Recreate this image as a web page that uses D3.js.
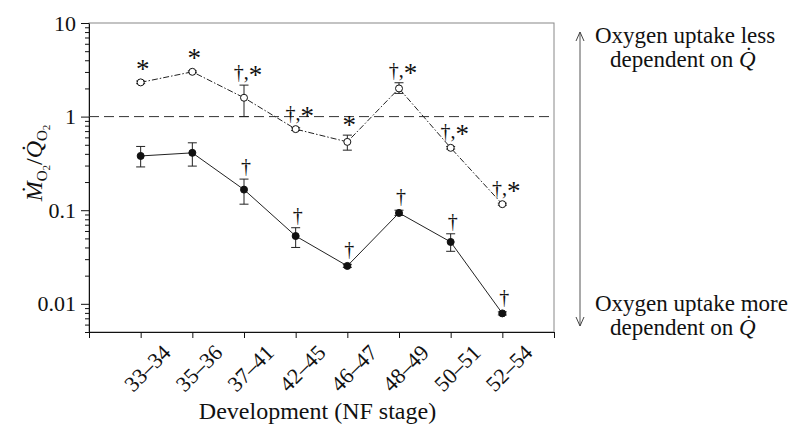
<!DOCTYPE html>
<html>
<head>
<meta charset="utf-8">
<script src="https://cdn.jsdelivr.net/npm/d3@7"></script>
<style>
  body { margin: 0; background: #fff; }
  svg { font-family: "Liberation Serif", "Times New Roman", serif; }
  .axis path, .axis line { stroke: #111; }
  .axis text { font-size: 22px; fill: #111; font-family: "Liberation Serif", serif; }
</style>
</head>
<body>
<div id="chart"></div>
<script>
// data
const stages = ["33–34", "35–36", "37–41", "42–45", "46–47", "48–49", "50–51", "52–54"];

const closedMean = [0.38, 0.41, 0.166, 0.053, 0.0254, 0.0935, 0.0458, 0.0079];
const closedLow  = [0.29, 0.296, 0.116, 0.040, 0.0245, 0.088, 0.0364, 0.0076];
const closedHigh = [0.48, 0.525, 0.215, 0.065, 0.0264, 0.100, 0.056, 0.0082];

const openMean = [2.32, 3.01, 1.59, 0.735, 0.537, 2.0, 0.464, 0.116];
const openLow  = [2.25, 2.95, 1.0, 0.71, 0.438, 1.77, 0.45, 0.113];
const openHigh = [2.40, 3.08, 2.17, 0.76, 0.634, 2.30, 0.48, 0.119];

const closedMarks = ["", "", "†", "†", "†", "†", "†", "†"];
const openMarks   = ["*", "*", "†,*", "†,*", "*", "†,*", "†,*", "†,*"];

const yMajor = [10, 1, 0.1, 0.01];
const yMajorLabels = ["10", "1", "0.1", "0.01"];
const yMinor = [0.005, 0.006, 0.007, 0.008, 0.009,
                0.02, 0.03, 0.04, 0.05, 0.06, 0.07, 0.08, 0.09,
                0.2, 0.3, 0.4, 0.5, 0.6, 0.7, 0.8, 0.9,
                2, 3, 4, 5, 6, 7, 8, 9];
const refLevel = 1;

// layout
const w = 798, h = 425;
const pLeft = 89, pRight = 554, pTop = 23, pBottom = 332;
const r = 3.5;

const svg = d3.select("#chart").append("svg")
    .attr("width", w)
    .attr("height", h);

const xScale = d3.scaleLinear().domain([0, stages.length + 1]).range([pLeft, pRight]);
const yScale = d3.scaleLog().domain([0.005, 10]).range([pBottom, pTop]);

// frame (top and right are light)
svg.append("rect")
    .attr("x", pLeft).attr("y", pTop)
    .attr("width", pRight - pLeft).attr("height", pBottom - pTop)
    .attr("fill", "none").attr("stroke", "#888").attr("stroke-width", 1);

// y axis, major + minor
svg.append("g")
    .attr("class", "axis")
    .attr("transform", "translate(" + pLeft + ",0)")
    .call(d3.axisLeft(yScale).tickValues(yMinor).tickSize(4).tickFormat(""))
    .call(g => g.select(".domain").remove());

svg.append("g")
    .attr("class", "axis")
    .attr("transform", "translate(" + pLeft + ",0)")
    .call(d3.axisLeft(yScale).tickValues(yMajor).tickSize(8).tickSizeOuter(0).tickPadding(5)
        .tickFormat((d, i) => yMajorLabels[i]));

// x axis
const xTicks = d3.range(0, stages.length + 2);
const xAxis = svg.append("g")
    .attr("class", "axis")
    .attr("transform", "translate(0," + pBottom + ")")
    .call(d3.axisBottom(xScale).tickValues(xTicks).tickSize(6).tickSizeOuter(0)
        .tickFormat(d => (d >= 1 && d <= stages.length) ? stages[d - 1] : ""));

xAxis.selectAll(".tick text")
    .attr("y", 0)
    .attr("dy", "0.35em")
    .attr("text-anchor", "middle")
    .attr("transform", "translate(6,36) rotate(-45)");

// reference line at 1
svg.append("line")
    .attr("x1", pLeft).attr("x2", pRight)
    .attr("y1", yScale(refLevel)).attr("y2", yScale(refLevel))
    .attr("stroke", "#333").attr("stroke-width", 1)
    .attr("stroke-dasharray", "10,5");

function series(mean, low, high, marks, filled, dash) {
    const data = mean.map((v, i) => ({i: i + 1, v: v, lo: low[i], hi: high[i], mark: marks[i]}));
    const g = svg.append("g");

    const line = d3.line()
        .x(d => xScale(d.i))
        .y(d => yScale(d.v));

    g.append("path")
        .datum(data)
        .attr("fill", "none")
        .attr("stroke", "#222")
        .attr("stroke-width", 1)
        .attr("stroke-dasharray", dash)
        .attr("d", line);

    // error bars
    const eb = g.selectAll(".eb").data(data).join("g").attr("class", "eb")
        .attr("stroke", "#222").attr("stroke-width", 1);
    eb.append("line")
        .attr("x1", d => xScale(d.i)).attr("x2", d => xScale(d.i))
        .attr("y1", d => yScale(d.lo)).attr("y2", d => yScale(d.hi));
    [d => d.lo, d => d.hi].forEach(f => {
        eb.append("line")
            .attr("x1", d => xScale(d.i) - 4.5).attr("x2", d => xScale(d.i) + 4.5)
            .attr("y1", d => yScale(f(d))).attr("y2", d => yScale(f(d)));
    });

    g.selectAll("circle").data(data).join("circle")
        .attr("cx", d => xScale(d.i))
        .attr("cy", d => yScale(d.v))
        .attr("r", r)
        .attr("fill", filled ? "#111" : "#fff")
        .attr("stroke", "#111")
        .attr("stroke-width", 1);

    // significance marks
    const t = g.selectAll(".mark").data(data.filter(d => d.mark)).join("text")
        .attr("class", "mark")
        .attr("x", d => xScale(d.i) + (d.mark.length > 1 ? 4 : 2))
        .attr("y", d => Math.min(yScale(d.hi), yScale(d.v) - r) - 6)
        .attr("text-anchor", "middle")
        .attr("font-size", "20px")
        .attr("fill", "#111");
    t.each(function(d) {
        const el = d3.select(this);
        d.mark.split("").forEach(ch => {
            const s = el.append("tspan").text(ch);
            if (ch === "*") s.attr("font-size", "27px").attr("dy", "5");
        });
    });
}

series(closedMean, closedLow, closedHigh, closedMarks, true, null);
series(openMean, openLow, openHigh, openMarks, false, "6,2,1.5,2");

// y axis label
const yl = svg.append("text")
    .attr("transform", "translate(42," + 163 + ") rotate(-90)")
    .attr("text-anchor", "middle")
    .attr("font-size", "24px")
    .attr("fill", "#111");
yl.append("tspan").attr("font-style", "italic").text("M\u0307");
yl.append("tspan").attr("font-size", "15px").attr("dy", 5).text("O");
yl.append("tspan").attr("font-size", "11px").attr("dy", 3).text("2");
yl.append("tspan").attr("dy", -8).text("/");
yl.append("tspan").attr("font-style", "italic").text("Q\u0307");
yl.append("tspan").attr("font-size", "15px").attr("dy", 5).text("O");
yl.append("tspan").attr("font-size", "11px").attr("dy", 3).text("2");

// x axis label
svg.append("text")
    .attr("x", (pLeft + pRight) / 2 - 4)
    .attr("y", 419)
    .attr("text-anchor", "middle")
    .attr("font-size", "24px")
    .attr("fill", "#111")
    .text("Development (NF stage)");

// right hand annotation
const defs = svg.append("defs");
defs.append("marker")
    .attr("id", "chev")
    .attr("viewBox", "0 0 10 10")
    .attr("refX", 10).attr("refY", 5)
    .attr("markerWidth", 10).attr("markerHeight", 10)
    .attr("markerUnits", "userSpaceOnUse")
    .attr("orient", "auto-start-reverse")
    .append("path")
    .attr("d", "M1,1 L10,5 L1,9")
    .attr("fill", "none").attr("stroke", "#444").attr("stroke-width", 1);

svg.append("line")
    .attr("x1", 580).attr("x2", 580)
    .attr("y1", 32).attr("y2", 326)
    .attr("stroke", "#555").attr("stroke-width", 1)
    .attr("marker-start", "url(#chev)")
    .attr("marker-end", "url(#chev)");

function note(y, first) {
    const t = svg.append("text").attr("font-size", "23px").attr("fill", "#111");
    t.append("tspan").attr("x", 595).attr("y", y).text(first);
    const l2 = t.append("tspan").attr("x", 610).attr("y", y + 24);
    l2.append("tspan").text("dependent on ");
    l2.append("tspan").attr("font-style", "italic").text("Q\u0307");
}
note(42.5, "Oxygen uptake less");
note(311, "Oxygen uptake more");
</script>
</body>
</html>
